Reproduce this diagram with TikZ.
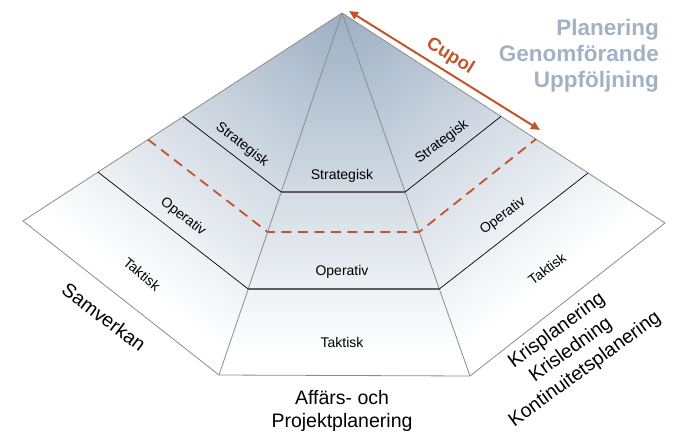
\documentclass[tikz,border=0pt]{standalone}
\usepackage{fontspec}
\setmainfont{Liberation Sans}
\usetikzlibrary{arrows.meta}
\definecolor{topc}{HTML}{9CAFC3}
\definecolor{midc}{HTML}{D3DBE4}
\definecolor{lowc}{HTML}{EEF1F5}
\definecolor{rust}{HTML}{C1552C}
\definecolor{steel}{HTML}{A2B2C4}
\definecolor{edgec}{HTML}{8C8C8C}
\definecolor{levc}{HTML}{5E5E5E}
\pgfdeclareverticalshading{pyr}{100bp}{color(0bp)=(white); color(26.5bp)=(white); color(31bp)=(lowc); color(37.7bp)=(midc); color(50bp)=(topc); color(100bp)=(topc)}
\begin{document}
\begin{tikzpicture}[x=1pt,y=-1pt,
  outline/.style={draw=edgec, line width=0.8pt},
  levelline/.style={draw=levc, line width=1.4pt},
  sepline/.style={draw=black, line width=0.7pt},
  cupdash/.style={draw=rust, line width=1.8pt, dash pattern=on 10pt off 6.5pt},
  cuparrow/.style={draw=rust, line width=2pt, {Triangle[length=9pt,width=8pt]}-{Triangle[length=9pt,width=8pt]}},
  lab/.style={font=\fontsize{14}{16}\selectfont, inner sep=0pt},
  big/.style={font=\fontsize{19.5}{23}\selectfont, inner sep=0pt, align=center},
  head/.style={font=\fontsize{22.5}{26}\selectfont\bfseries, text=steel, inner sep=0pt, anchor=base east}]
\useasboundingbox (0,0) rectangle (684,433);
% corners
\coordinate (A) at (342,13);
\coordinate (L) at (23,221);
\coordinate (BL) at (219,375);
\coordinate (BR) at (470,376);
\coordinate (R) at (665,223);
% level points
\coordinate (c1l) at (281.2,192);
\coordinate (c1r) at (405.1,192);
\coordinate (c2l) at (248.2,289);
\coordinate (c2r) at (439.3,289);
\coordinate (s1l) at (183,116.7);
\coordinate (s2l) at (98,172.1);
\coordinate (s1r) at (501,116.4);
\coordinate (s2r) at (588,173);
% dashed line points
\coordinate (d1) at (148,139.5);
\coordinate (d2) at (267.6,232);
\coordinate (d3) at (419.2,232);
\coordinate (d4) at (536,139.1);
% arrow ends
\coordinate (u1) at (349,11);
\coordinate (u2) at (540,130);
% shaded faces
\begin{scope}
\clip (A) -- (L) -- (BL) -- cycle;
\shade[shading=pyr, shading angle=-37.2] (-21,-350) rectangle (705,376);
\end{scope}
\begin{scope}
\clip (A) -- (BL) -- (BR) -- cycle;
\shade[shading=pyr] (-21,-350) rectangle (705,376);
\end{scope}
\begin{scope}
\clip (A) -- (R) -- (BR) -- cycle;
\shade[shading=pyr, shading angle=37.4] (-21,-350) rectangle (705,376);
\end{scope}
% edges
\draw[outline] (A) -- (L) -- (BL) -- (BR) -- (R) -- cycle;
\draw[outline] (A) -- (BL);
\draw[outline] (A) -- (BR);
\draw[levelline] (c1l) -- (c1r);
\draw[levelline] (c2l) -- (c2r);
\draw[sepline] (s1l) -- (c1l);
\draw[sepline] (s2l) -- (c2l);
\draw[sepline] (c1r) -- (s1r);
\draw[sepline] (c2r) -- (s2r);
\draw[cupdash] (d1) -- (d2) -- (d3) -- (d4);
\draw[cuparrow] (u1) -- (u2);
% labels
\node[lab] (cs) at (342,176) {Strategisk};
\node[lab] (co) at (342,272) {Operativ};
\node[lab] (ct) at (342,342) {Taktisk};
\node[lab, rotate=-38] (ls) at (242,145) {Strategisk};
\node[lab, rotate=-38] (lo) at (183,217) {Operativ};
\node[lab, rotate=-40] (lt) at (142,274) {Taktisk};
\node[lab, rotate=37] (rs) at (442,142) {Strategisk};
\node[lab, rotate=37] (ro) at (503,216) {Operativ};
\node[lab, rotate=37] (rt) at (547,269) {Taktisk};
\node[font=\fontsize{18.5}{20}\selectfont\bfseries, text=rust, inner sep=0pt, rotate=-32] (cup) at (450,56) {Cupol};
\node[head] (h1) at (659,36) {Planering};
\node[head] (h2) at (659,62) {Genomförande};
\node[head] (h3) at (659,88) {Uppföljning};
\node[big, rotate=-37] (sam) at (104,317) {Samverkan};
\node[big] (aff) at (342,411) {Affärs- och\\Projektplanering};
\node[big, rotate=36, font=\fontsize{19.5}{24}\selectfont] (kris) at (571,350) {Krisplanering\\Krisledning\\Kontinuitetsplanering};
\end{tikzpicture}
\end{document}
